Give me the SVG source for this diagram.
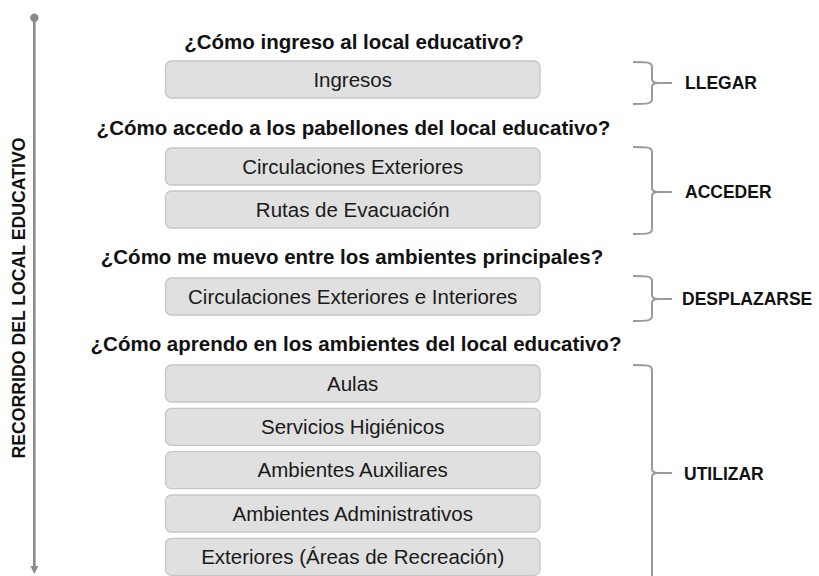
<svg xmlns="http://www.w3.org/2000/svg" width="819" height="576" viewBox="0 0 819 576">
<style>
.box{fill:#e0e0e0;stroke:#c6c6c6;stroke-width:1.3}
.lbl{font-family:"Liberation Sans",Arial,sans-serif;font-size:20.5px;fill:#1a1a1a;text-anchor:middle}
.q{font-family:"Liberation Sans",Arial,sans-serif;font-size:20.5px;font-weight:bold;fill:#111;text-anchor:middle}
.side{font-family:"Liberation Sans",Arial,sans-serif;font-size:17.5px;font-weight:bold;fill:#111}
.br{fill:none;stroke:#9a9a9a;stroke-width:2}
.axis{stroke:#8a8a8a;stroke-width:2.6;fill:none}
</style>
<defs>
<marker id="arr" viewBox="0 0 10 10" refX="5" refY="5" markerWidth="3" markerHeight="3" orient="auto">
<path d="M0,0 L10,5 L0,10 z" fill="#8a8a8a"/>
</marker>
</defs>
<rect width="819" height="576" fill="#fff"/>
<g id="axis">
<circle cx="34.3" cy="17.7" r="4.2" fill="#8a8a8a"/>
<line class="axis" x1="34.3" y1="18" x2="34.3" y2="570" marker-end="url(#arr)"/>
<text transform="translate(24.5,298) rotate(-90)" text-anchor="middle" style="font-family:'Liberation Sans',Arial,sans-serif;font-size:18px;font-weight:bold;fill:#111" textLength="321" lengthAdjust="spacingAndGlyphs">RECORRIDO DEL LOCAL EDUCATIVO</text>
</g>
<g id="questions">
<text class="q" x="354" y="49">¿Cómo ingreso al local educativo?</text>
<text class="q" x="353.5" y="135">¿Cómo accedo a los pabellones del local educativo?</text>
<text class="q" x="352" y="264">¿Cómo me muevo entre los ambientes principales?</text>
<text class="q" x="356" y="351">¿Cómo aprendo en los ambientes del local educativo?</text>
</g>
<g id="n-ingresos"><rect class="box" x="165.5" y="61" width="374.5" height="37" rx="6"/><text class="lbl" x="352.7" y="86.5">Ingresos</text></g>
<g id="n-circ-ext"><rect class="box" x="165.5" y="148" width="374.5" height="37" rx="6"/><text class="lbl" x="352.7" y="173.5">Circulaciones Exteriores</text></g>
<g id="n-rutas"><rect class="box" x="165.5" y="191" width="374.5" height="37" rx="6"/><text class="lbl" x="352.7" y="216.5">Rutas de Evacuación</text></g>
<g id="n-circ-ei"><rect class="box" x="165.5" y="278" width="374.5" height="37" rx="6"/><text class="lbl" x="352.7" y="303.5">Circulaciones Exteriores e Interiores</text></g>
<g id="n-aulas"><rect class="box" x="165.5" y="365" width="374.5" height="37" rx="6"/><text class="lbl" x="352.7" y="390.5">Aulas</text></g>
<g id="n-ss"><rect class="box" x="165.5" y="408.3" width="374.5" height="37" rx="6"/><text class="lbl" x="352.7" y="433.8">Servicios Higiénicos</text></g>
<g id="n-aux"><rect class="box" x="165.5" y="451.6" width="374.5" height="37" rx="6"/><text class="lbl" x="352.7" y="477.1">Ambientes Auxiliares</text></g>
<g id="n-adm"><rect class="box" x="165.5" y="495" width="374.5" height="37" rx="6"/><text class="lbl" x="352.7" y="520.5">Ambientes Administrativos</text></g>
<g id="n-ext"><rect class="box" x="165.5" y="538.3" width="374.5" height="37" rx="6"/><text class="lbl" x="352.7" y="563.8">Exteriores (Áreas de Recreación)</text></g>
<g id="connectors">
<path class="br" d="M633,62 C647,62 652,62 652,67 L652,79 C652,82 654,83 658,83 C654,83 652,84 652,87 L652,99 C652,104 647,104 633,104 M656,83 H672"/>
<path class="br" d="M633,147 C647,147 652,147 652,152 L652,188 C652,191 654,192 658,192 C654,192 652,193 652,196 L652,229 C652,234 647,234 633,234 M656,192 H672"/>
<path class="br" d="M633,276 C647,276 652,276 652,281 L652,295 C652,298 654,299 658,299 C654,299 652,300 652,303 L652,316 C652,321 647,321 633,321 M656,299 H672"/>
<path class="br" d="M633,365 C647,365 652,365 652,370 L652,469 C652,472 654,473 658,473 C654,473 652,474 652,477 L652,585 C652,590 647,590 633,590 M656,473 H672"/>
</g>
<g id="labels">
<text class="side" x="685" y="89">LLEGAR</text>
<text class="side" x="685" y="198">ACCEDER</text>
<text class="side" x="682" y="305">DESPLAZARSE</text>
<text class="side" x="684" y="480">UTILIZAR</text>
</g>
</svg>
